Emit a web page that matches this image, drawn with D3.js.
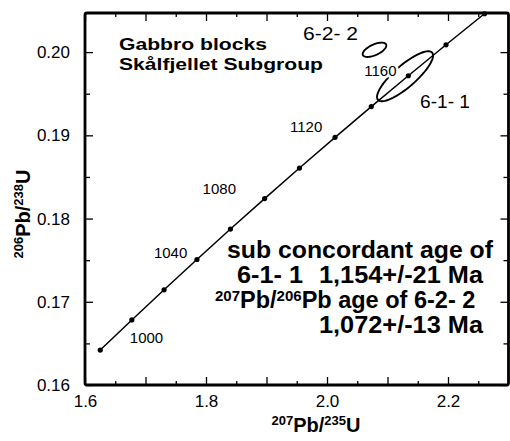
<!DOCTYPE html>
<html>
<head>
<meta charset="utf-8">
<script src="https://cdnjs.cloudflare.com/ajax/libs/d3/7.8.5/d3.min.js"></script>
<style>
  body { margin: 0; background: #fff; }
  svg { display: block; font-family: "Liberation Sans", Arial, Helvetica, sans-serif; }
  .axis text { font-size: 17px; fill: #000; }
  .axis line { stroke: #000; stroke-width: 1.3; }
</style>
</head>
<body>
<svg width="510" height="441"></svg>
<script>
// concordia: ages (Ma) with the ratios
var ages = [980, 1000, 1020, 1040, 1060, 1080, 1100, 1120, 1140, 1160, 1180, 1200];
var pb207u235 = [1.6252, 1.6774, 1.7307, 1.7850, 1.8404, 1.8969, 1.9545, 2.0133, 2.0732, 2.1344, 2.1967, 2.2603];
var pb206u238 = [0.16420, 0.16782, 0.17144, 0.17508, 0.17874, 0.18240, 0.18607, 0.18976, 0.19345, 0.19716, 0.20088, 0.20461];
var ageLabels = [1000, 1040, 1080, 1120, 1160];

// analyses: centre, half widths and error correlation
var spotNames = ["6-1- 1", "6-2- 2"];
var spotX = [2.129, 2.0785];
var spotY = [0.1971, 0.20028];
var spotSx = [0.0463, 0.0195];
var spotSy = [0.0030, 0.00086];
var spotRho = [0.83, 0.6];

// ticks
var xMajor = [1.6, 1.7, 1.8, 1.9, 2.0, 2.1, 2.2];
var xMinor = [1.65, 1.75, 1.85, 1.95, 2.05, 2.15, 2.25];
var xLabels = [1.6, 1.8, 2.0, 2.2];
var yMajor = [0.16, 0.17, 0.18, 0.19, 0.20];
var yMinor = [0.165, 0.175, 0.185, 0.195];

var svg = d3.select("svg");

var x = d3.scaleLinear().domain([1.6, 2.3]).range([85, 508.5]);
var y = d3.scaleLinear().domain([0.16, 0.2047]).range([385, 13]);

function fmtX(d) {
  return xLabels.some(function(v) { return Math.abs(v - d) < 1e-9; }) ? d.toFixed(1) : "";
}

// axes, ticks all pointing inward
svg.append("g").attr("class", "axis").attr("transform", "translate(0,385)")
  .call(d3.axisBottom(x).tickValues(xMajor).tickSize(-8).tickSizeOuter(0).tickPadding(10).tickFormat(fmtX));
svg.append("g").attr("class", "axis").attr("transform", "translate(0,385)")
  .call(d3.axisBottom(x).tickValues(xMinor).tickSize(-4).tickSizeOuter(0).tickFormat(""));
svg.append("g").attr("class", "axis").attr("transform", "translate(0,13)")
  .call(d3.axisTop(x).tickValues(xMajor).tickSize(-8).tickSizeOuter(0).tickFormat(""));
svg.append("g").attr("class", "axis").attr("transform", "translate(0,13)")
  .call(d3.axisTop(x).tickValues(xMinor).tickSize(-4).tickSizeOuter(0).tickFormat(""));

svg.append("g").attr("class", "axis").attr("transform", "translate(85,0)")
  .call(d3.axisLeft(y).tickValues(yMajor).tickSize(-8).tickSizeOuter(0).tickPadding(15).tickFormat(d3.format(".2f")));
svg.append("g").attr("class", "axis").attr("transform", "translate(85,0)")
  .call(d3.axisLeft(y).tickValues(yMinor).tickSize(-5).tickSizeOuter(0).tickFormat(""));
svg.append("g").attr("class", "axis").attr("transform", "translate(508.5,0)")
  .call(d3.axisRight(y).tickValues(yMajor).tickSize(-8).tickSizeOuter(0).tickFormat(""));
svg.append("g").attr("class", "axis").attr("transform", "translate(508.5,0)")
  .call(d3.axisRight(y).tickValues(yMinor).tickSize(-5).tickSizeOuter(0).tickFormat(""));

svg.selectAll(".axis .domain").remove();

// frame
svg.append("rect")
  .attr("x", x(1.6)).attr("y", y(0.2047))
  .attr("width", x(2.3) - x(1.6)).attr("height", y(0.16) - y(0.2047))
  .attr("rx", 2)
  .attr("fill", "none").attr("stroke", "#000").attr("stroke-width", 2.8);

// concordia curve
var conc = ages.map(function(a, i) { return { age: a, x: pb207u235[i], y: pb206u238[i] }; });

svg.append("path")
  .datum(conc)
  .attr("fill", "none")
  .attr("stroke", "#000")
  .attr("stroke-width", 1.5)
  .attr("d", d3.line().x(function(d) { return x(d.x); }).y(function(d) { return y(d.y); }));

svg.append("g").selectAll("circle")
  .data(conc)
  .enter().append("circle")
  .attr("cx", function(d) { return x(d.x); })
  .attr("cy", function(d) { return y(d.y); })
  .attr("r", 2.6)
  .attr("fill", "#000");

// error ellipses
function ellipse(i) {
  var phi = Math.acos(spotRho[i]);
  return d3.range(0, 361, 4).map(function(a) {
    var t = a * Math.PI / 180;
    return [x(spotX[i] + spotSx[i] * Math.cos(t)), y(spotY[i] + spotSy[i] * Math.cos(t + phi))];
  });
}

svg.append("g").selectAll("path")
  .data(spotNames)
  .enter().append("path")
  .attr("fill", "none")
  .attr("stroke", "#000")
  .attr("stroke-width", 1.9)
  .attr("d", function(d, i) { return d3.line()(ellipse(i)); });

// age labels beside the concordia ticks
var ageOffsets = { 1000: [-2, 23], 1040: [-43, -2], 1080: [-62, -5], 1120: [-45, -5], 1160: [-44, 0] };
svg.append("g").selectAll("text")
  .data(conc.filter(function(d) { return ageLabels.indexOf(d.age) >= 0; }))
  .enter().append("text")
  .attr("x", function(d) { return x(d.x) + ageOffsets[d.age][0]; })
  .attr("y", function(d) { return y(d.y) + ageOffsets[d.age][1]; })
  .attr("font-size", 15)
  .attr("stroke", "#fff").attr("stroke-width", 5).attr("paint-order", "stroke")
  .text(function(d) { return d.age; });

// analysis labels
svg.append("text").attr("x", 303).attr("y", 40).attr("font-size", 18)
  .attr("textLength", 55).attr("lengthAdjust", "spacingAndGlyphs").text(spotNames[1]);
svg.append("text").attr("x", 420).attr("y", 108).attr("font-size", 18)
  .attr("textLength", 50).attr("lengthAdjust", "spacingAndGlyphs").text(spotNames[0]);

// title block
svg.append("text").attr("x", 119).attr("y", 50).attr("font-size", 17).attr("font-weight", "bold")
  .attr("textLength", 148).attr("lengthAdjust", "spacingAndGlyphs").text("Gabbro blocks");
svg.append("text").attr("x", 119).attr("y", 70).attr("font-size", 17).attr("font-weight", "bold")
  .attr("textLength", 204).attr("lengthAdjust", "spacingAndGlyphs").text("Skålfjellet Subgroup");

// age notes
var note = svg.append("g").attr("font-size", 23.5).attr("font-weight", "bold");
note.append("text").attr("x", 227).attr("y", 258).attr("textLength", 266)
  .attr("lengthAdjust", "spacingAndGlyphs").text("sub concordant age of");
note.append("text").attr("x", 237).attr("y", 283).attr("textLength", 66)
  .attr("lengthAdjust", "spacingAndGlyphs").text("6-1- 1");
note.append("text").attr("x", 319).attr("y", 283).attr("textLength", 164)
  .attr("lengthAdjust", "spacingAndGlyphs").text("1,154+/-21 Ma");
var l3 = note.append("text").attr("x", 215).attr("y", 308);
l3.append("tspan").attr("font-size", 15).attr("dy", -7).text("207");
l3.append("tspan").attr("dy", 7).text("Pb/");
l3.append("tspan").attr("font-size", 15).attr("dy", -7).text("206");
l3.append("tspan").attr("dy", 7).text("Pb age of 6-2- 2");
note.append("text").attr("x", 319).attr("y", 333).attr("textLength", 164)
  .attr("lengthAdjust", "spacingAndGlyphs").text("1,072+/-13 Ma");

// axis titles
var xt = svg.append("text").attr("x", 316).attr("y", 432).attr("text-anchor", "middle")
  .attr("font-weight", "bold").attr("font-size", 20);
xt.append("tspan").attr("font-size", 13).attr("dy", -7).text("207");
xt.append("tspan").attr("dy", 7).text("Pb/");
xt.append("tspan").attr("font-size", 13).attr("dy", -7).text("235");
xt.append("tspan").attr("dy", 7).text("U");

var yt = svg.append("text").attr("transform", "translate(30,214) rotate(-90)").attr("text-anchor", "middle")
  .attr("font-weight", "bold").attr("font-size", 20);
yt.append("tspan").attr("font-size", 13).attr("dy", -7).text("206");
yt.append("tspan").attr("dy", 7).text("Pb/");
yt.append("tspan").attr("font-size", 13).attr("dy", -7).text("238");
yt.append("tspan").attr("dy", 7).text("U");
</script>
</body>
</html>
